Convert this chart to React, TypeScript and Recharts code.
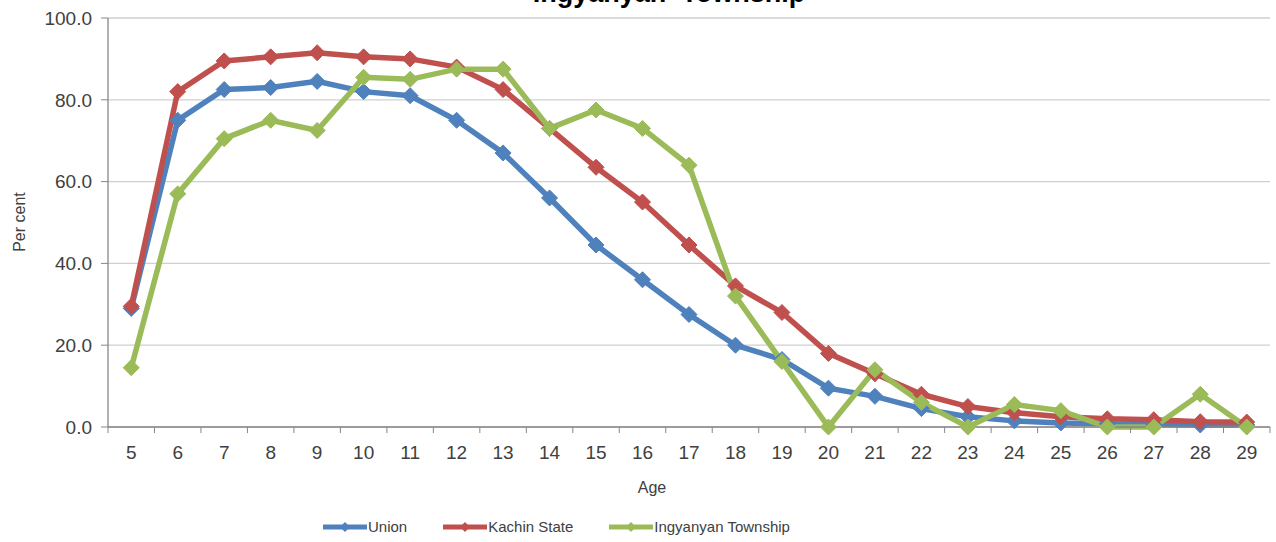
import React from "react";
import {
  LineChart,
  Line,
  XAxis,
  YAxis,
  CartesianGrid,
  Legend,
} from "recharts";

const ages = [
  "5", "6", "7", "8", "9", "10", "11", "12", "13", "14", "15", "16", "17",
  "18", "19", "20", "21", "22", "23", "24", "25", "26", "27", "28", "29",
];
const union = [
  29, 75, 82.5, 83, 84.5, 82, 81, 75, 67, 56, 44.5, 36, 27.5, 20, 16.5, 9.5,
  7.5, 4.5, 2.5, 1.5, 1, 0.8, 0.6, 0.5, 0.5,
];
const kachin = [
  29.5, 82, 89.5, 90.5, 91.5, 90.5, 90, 88, 82.5, 73, 63.5, 55, 44.5, 34.5, 28,
  18, 13, 8, 5, 3.5, 2.5, 2, 1.8, 1.3, 1.2,
];
const ingyanyan = [
  14.5, 57, 70.5, 75, 72.5, 85.5, 85, 87.5, 87.5, 73, 77.5, 73, 64, 32, 16, 0,
  14, 6, 0, 5.5, 4, 0, 0, 8, 0,
];
const yTicks = [0, 20, 40, 60, 80, 100];

const series = [
  { key: "union", name: "Union", color: "#4F81BD" },
  { key: "kachin", name: "Kachin State", color: "#C0504D" },
  { key: "ingyanyan", name: "Ingyanyan Township", color: "#9BBB59" },
];

const data = ages.map((age, i) => ({
  age,
  union: union[i],
  kachin: kachin[i],
  ingyanyan: ingyanyan[i],
}));

const W = 1276;
const H = 542;
const LEFT = 108;
const RIGHT = 6;
const BAND = (W - LEFT - RIGHT) / ages.length;
const FONT = "'Liberation Sans', Arial, sans-serif";
const TEXT = "#404040";
const AXIS = "#868686";

const Diamond = (color: string) => (props: any) => {
  const { cx, cy, index } = props;
  if (cx == null || cy == null) return <g key={index} />;
  const r = 8;
  return (
    <polygon
      key={index}
      points={`${cx},${cy - r} ${cx + r},${cy} ${cx},${cy + r} ${cx - r},${cy}`}
      fill={color}
      stroke={color}
      strokeWidth={1}
    />
  );
};

const XTick = (props: any) => {
  const { x, y, payload, index } = props;
  const axisY = y - 18;
  const left = x - BAND / 2;
  return (
    <g>
      <line x1={left} y1={axisY} x2={left} y2={axisY + 6} stroke={AXIS} />
      {index === ages.length - 1 && (
        <line x1={x + BAND / 2} y1={axisY} x2={x + BAND / 2} y2={axisY + 6} stroke={AXIS} />
      )}
      <text
        x={x}
        y={axisY + 32}
        textAnchor="middle"
        fontFamily={FONT}
        fontSize={19}
        fill={TEXT}
      >
        {payload.value}
      </text>
    </g>
  );
};

const LegendContent = () => (
  <div
    style={{
      display: "flex",
      alignItems: "center",
      height: 45,
      paddingTop: 14,
      boxSizing: "border-box",
      fontFamily: FONT,
      fontSize: 15,
      color: TEXT,
    }}
  >
    {series.map((s, i) => (
      <div
        key={s.key}
        style={{ display: "flex", alignItems: "center", marginRight: i === 0 ? 36 : 36 }}
      >
        <svg width={44} height={14}>
          <line x1={0} y1={7} x2={44} y2={7} stroke={s.color} strokeWidth={5} />
          <polygon points="22,2 27,7 22,12 17,7" fill={s.color} />
        </svg>
        <span style={{ marginLeft: 1 }}>{s.name}</span>
      </div>
    ))}
  </div>
);

export default function App() {
  return (
    <div style={{ position: "absolute", left: 0, top: 0, width: W, height: H, background: "#fff" }}>
      <LineChart
        width={W}
        height={H}
        data={data}
        margin={{ top: 18, right: RIGHT, left: 0, bottom: 0 }}
      >
        <CartesianGrid vertical={false} stroke="#CFCFCF" strokeWidth={1.3} />
        <XAxis
          dataKey="age"
          height={70}
          padding={{ left: BAND / 2, right: BAND / 2 }}
          axisLine={{ stroke: AXIS, strokeWidth: 1.3 }}
          tickLine={false}
          tickSize={6}
          tickMargin={12}
          interval={0}
          tick={<XTick />}
          label={(p: any) => {
            const vb = p.viewBox || {};
            return (
              <text
                x={(vb.x ?? 108) + (vb.width ?? 1162) / 2 - 37}
                y={493}
                textAnchor="middle"
                fontFamily={FONT}
                fontSize={16}
                fill={TEXT}
              >
                Age
              </text>
            );
          }}
        />
        <YAxis
          width={LEFT}
          domain={[0, 100]}
          ticks={yTicks}
          interval={0}
          tickFormatter={(v: number) => v.toFixed(1)}
          axisLine={{ stroke: AXIS, strokeWidth: 1.3 }}
          tickLine={{ stroke: AXIS }}
          tickSize={7}
          tickMargin={9}
          tick={{ fontFamily: FONT, fontSize: 19, fill: TEXT }}
          label={() => (
            <text
              x={25}
              y={222}
              transform="rotate(-90 25 222)"
              textAnchor="middle"
              fontFamily={FONT}
              fontSize={16}
              fill={TEXT}
            >
              Per cent
            </text>
          )}
        />
        <Legend
          verticalAlign="bottom"
          height={45}
          content={<LegendContent />}
          wrapperStyle={{ left: 323, width: 520 }}
        />
        {series.map((s) => (
          <Line
            key={s.key}
            type="linear"
            dataKey={s.key}
            name={s.name}
            stroke={s.color}
            strokeWidth={5.5}
            dot={Diamond(s.color)}
            activeDot={false}
            isAnimationActive={false}
          />
        ))}
      </LineChart>
      <svg
        width={W}
        height={20}
        style={{ position: "absolute", left: 0, top: 0, pointerEvents: "none" }}
      >
        <text
          x={669}
          y={2}
          textAnchor="middle"
          fontFamily={FONT}
          fontWeight="bold"
          fontSize={27}
          fill="#000"
          style={{ whiteSpace: "pre" }}
        >
          {"Ingyanyan  Township"}
        </text>
      </svg>
    </div>
  );
}
